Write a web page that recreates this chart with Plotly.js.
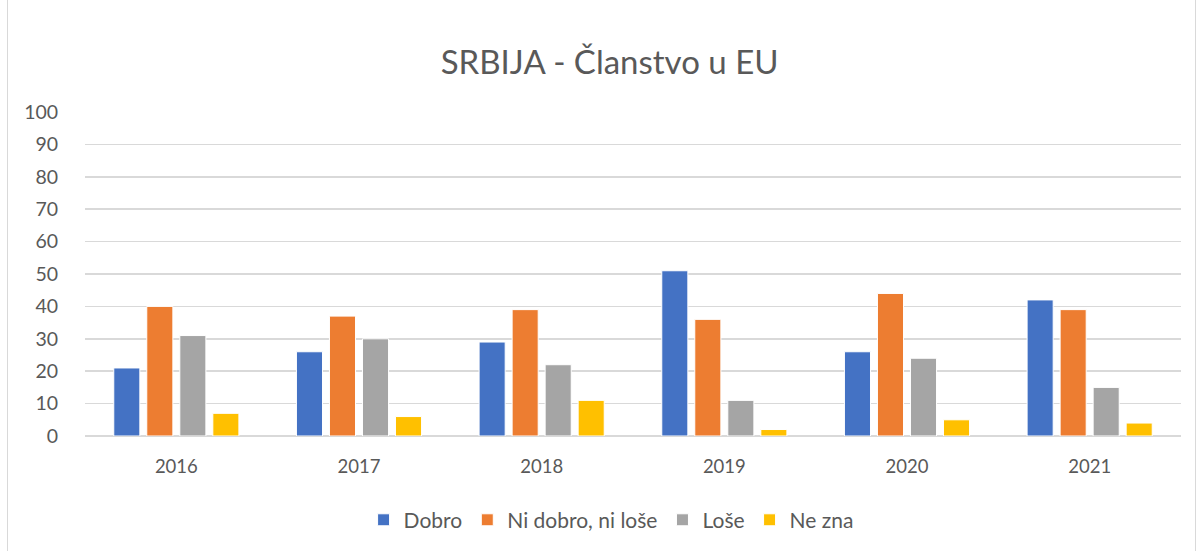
<!DOCTYPE html>
<html><head><meta charset="utf-8">
<script src="https://cdn.plot.ly/plotly-3.0.1.min.js"></script>
<style>
html,body{margin:0;padding:0;background:#fff;overflow:hidden;}
#frame{position:absolute;left:7px;top:-2px;width:1189px;height:560px;border:1px solid #d9d9d9;box-sizing:border-box;}
#chart{position:absolute;left:0;top:0;width:1200px;height:551px;}
</style></head>
<body>
<div id="frame"></div>
<div id="chart"></div>
<script>
const years = ["2016","2017","2018","2019","2020","2021"];
const dobro = [21,26,29,51,26,42];
const niDobroNiLose = [40,37,39,36,44,39];
const lose = [31,30,22,11,24,15];
const neZna = [7,6,11,2,5,4];
const seriesNames = ["Dobro","Ni dobro, ni loše","Loše","Ne zna"];
const colors = ["#4472c4","#ed7d31","#a5a5a5","#ffc000"];
const yTicks = [0,10,20,30,40,50,60,70,80,90,100];

const data = [dobro, niDobroNiLose, lose, neZna].map((vals,i)=>({
  type:"bar", x:years, y:vals, name:seriesNames[i],
  marker:{color:colors[i], line:{color:"#ffffff", width:1}},
  hoverinfo:"x+y+name"
}));

const font = "Lato, 'Open Sans', sans-serif";
const layout = {
  width:1200, height:551,
  paper_bgcolor:"rgba(0,0,0,0)", plot_bgcolor:"rgba(0,0,0,0)",
  margin:{l:85,r:19,t:112,b:115, autoexpand:false},
  title:{text:"SRBIJA - Članstvo u EU", x:0.508, xanchor:"center", y:0.887, yanchor:"middle",
    font:{family:font, size:33, color:"#595959"}},
  barmode:"group", bargap:0.277, bargroupgap:0.21,
  xaxis:{type:"category", showgrid:false, zeroline:false, showline:false, automargin:false,
    ticks:"outside", ticklen:14, tickcolor:"rgba(0,0,0,0)",
    tickfont:{family:font, size:18.5, color:"#595959"}},
  yaxis:{range:[0,100], tickvals:yTicks, showgrid:true, gridcolor:"#d9d9d9", gridwidth:1.5, automargin:false,
    zeroline:true, zerolinecolor:"#d9d9d9", zerolinewidth:1.5, showline:false,
    ticks:"outside", ticklen:22, tickcolor:"rgba(0,0,0,0)",
    tickfont:{family:font, size:19.5, color:"#595959"}},
  showlegend:true,
  legend:{orientation:"h", x:0.48, xanchor:"center", yref:"container", y:0.056, yanchor:"middle",
    font:{family:font, size:21, color:"#595959"}, itemwidth:30, traceorder:"normal"}
};
Plotly.newPlot("chart", data, layout, {displayModeBar:false, staticPlot:true});
</script>
</body></html>
